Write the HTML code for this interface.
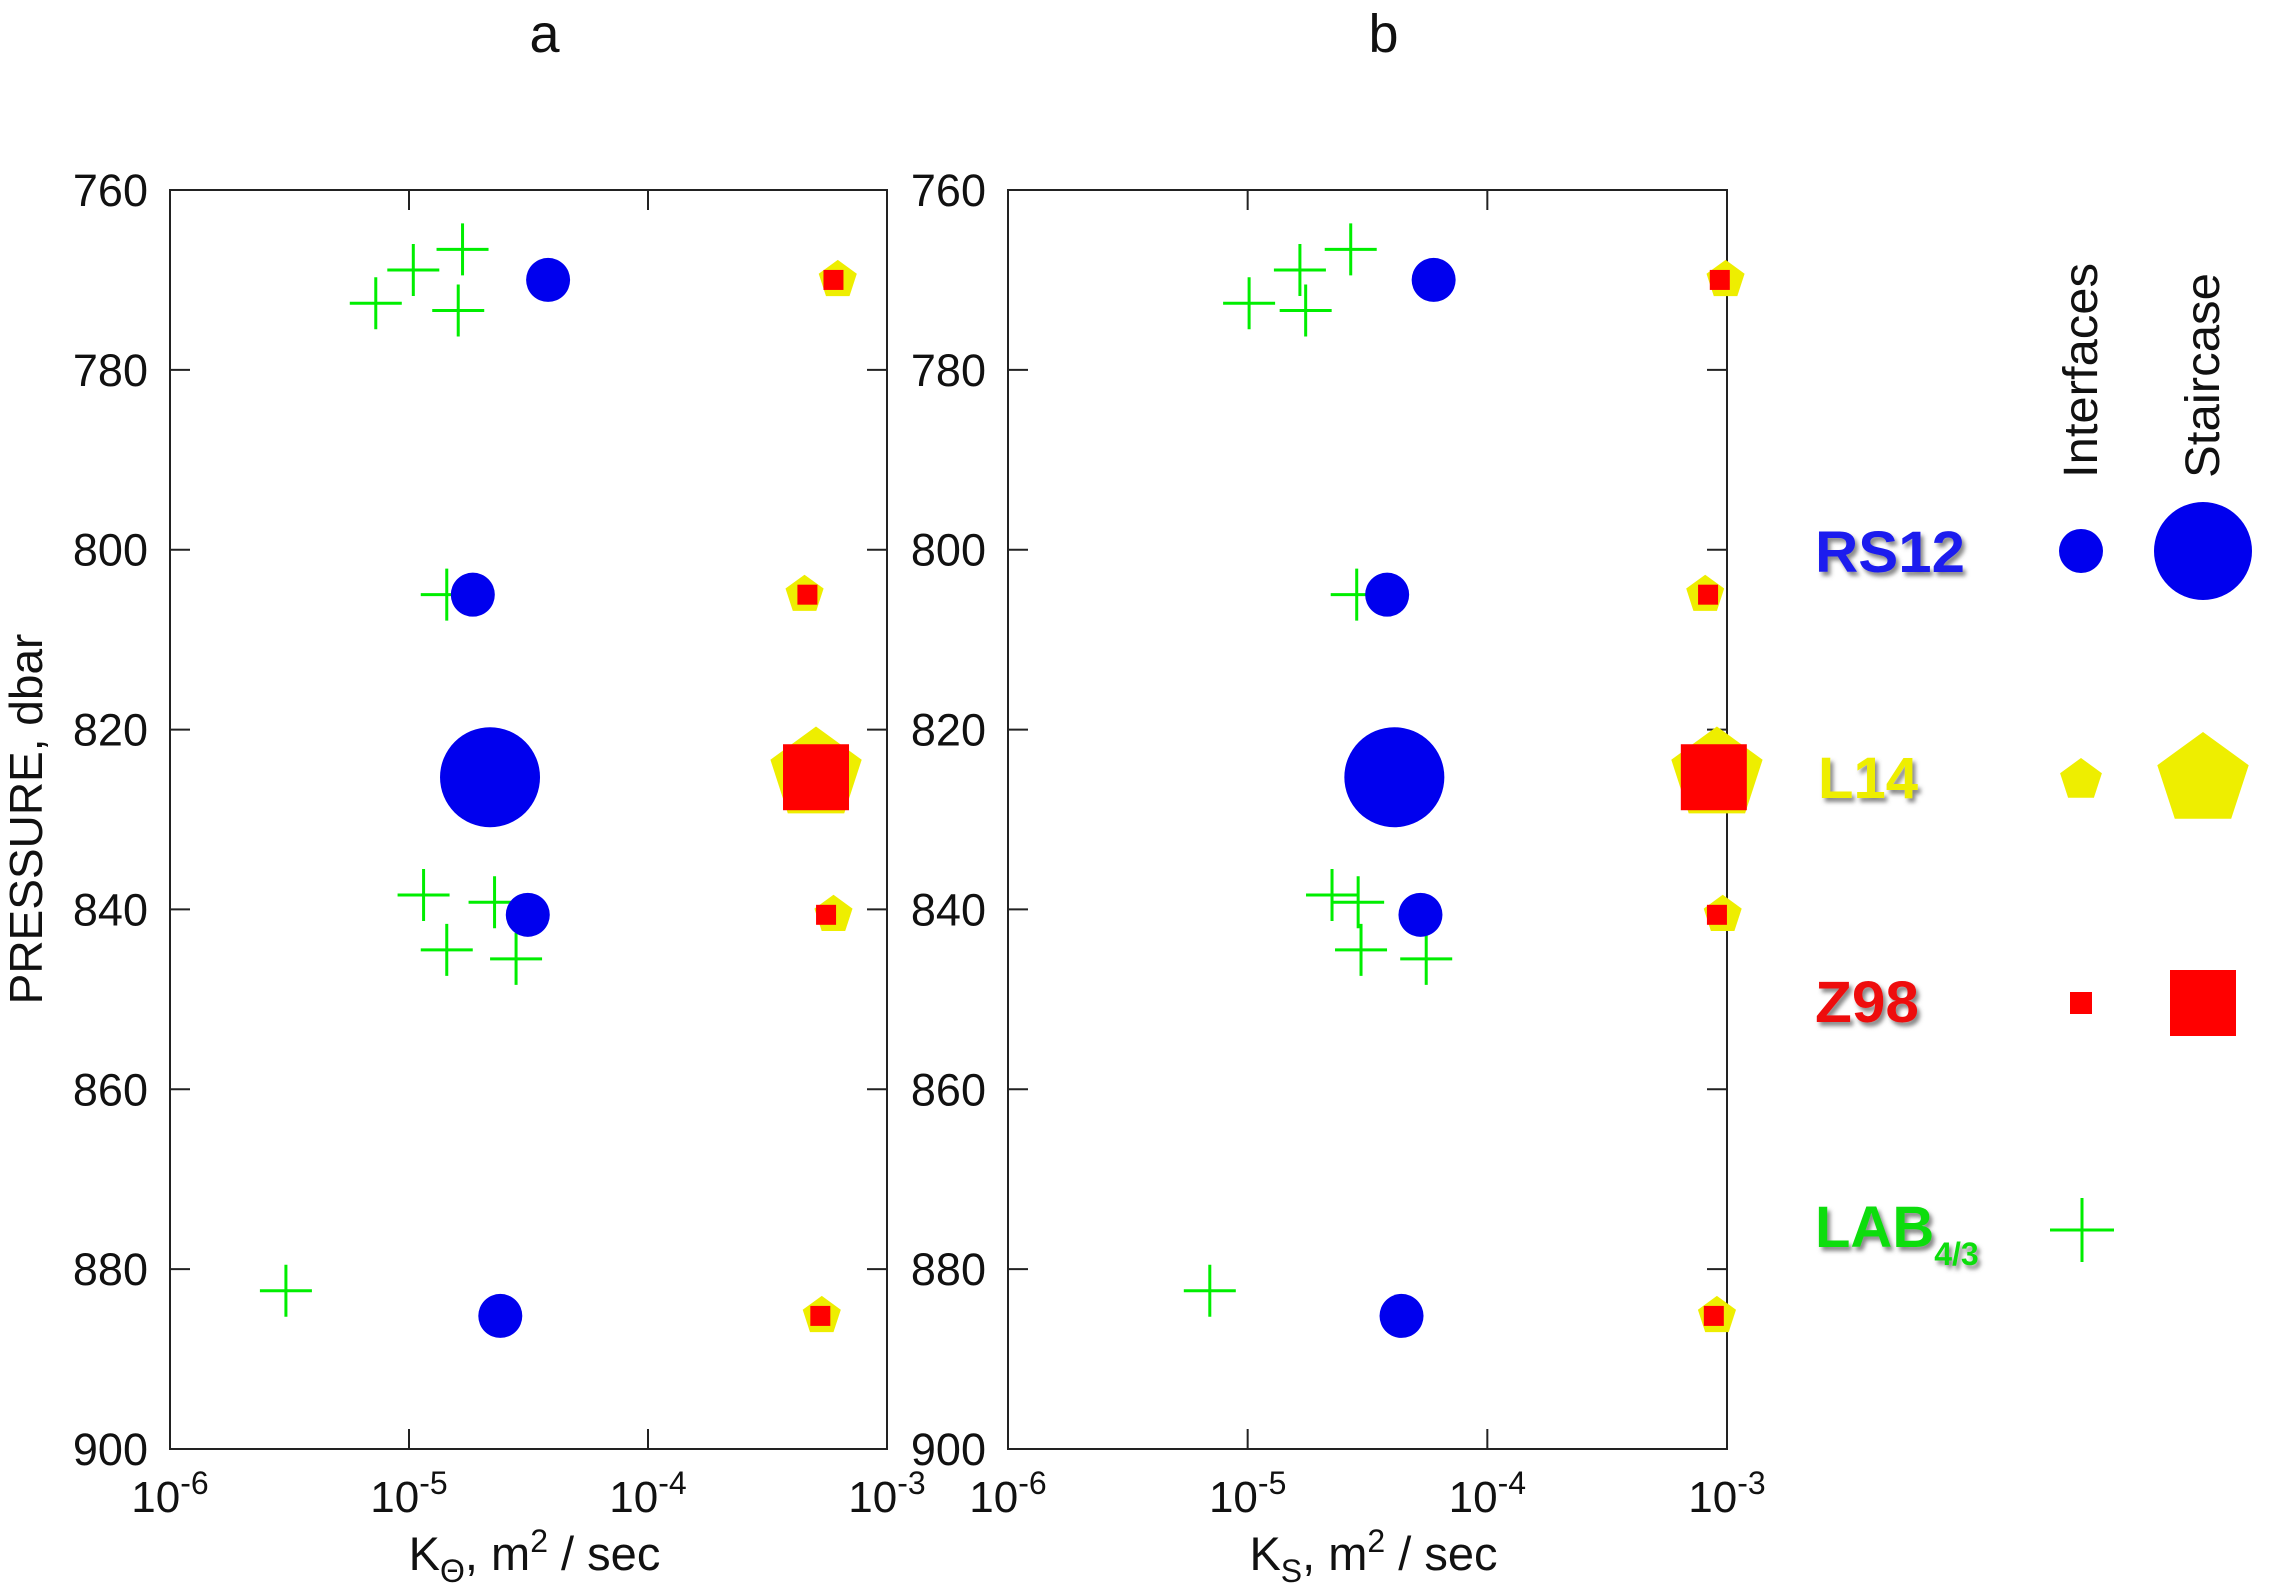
<!DOCTYPE html>
<html><head><meta charset="utf-8"><style>
html,body{margin:0;padding:0;background:#fff}
svg{display:block}
text{font-family:"Liberation Sans",sans-serif;fill:#111}
.lg{font-weight:bold;font-size:58px}
</style></head><body>
<svg id="chart" width="2274" height="1594" viewBox="0 0 2274 1594" xmlns="http://www.w3.org/2000/svg">
<defs>
<filter id="sh" x="-10%" y="-10%" width="130%" height="140%"><feDropShadow dx="3" dy="4" stdDeviation="2" flood-color="#555" flood-opacity="0.7"/></filter>
</defs>
<g id="panels"></g>
<g id="legend">
<text x="2097" y="478" font-size="48" transform="rotate(-90 2097 478)" textLength="215" lengthAdjust="spacingAndGlyphs">Interfaces</text>
<text x="2219" y="478" font-size="48" transform="rotate(-90 2219 478)" textLength="205" lengthAdjust="spacingAndGlyphs">Staircase</text>
<text class="lg" x="1815" y="572" style="fill:#1a1aee" filter="url(#sh)" textLength="150" lengthAdjust="spacingAndGlyphs">RS12</text>
<text class="lg" x="1818" y="798" style="fill:#eeee00" filter="url(#sh)" textLength="100" lengthAdjust="spacingAndGlyphs">L14</text>
<text class="lg" x="1815" y="1022" style="fill:#ee1111" filter="url(#sh)" textLength="104" lengthAdjust="spacingAndGlyphs">Z98</text>
<text class="lg" x="1815" y="1247" style="fill:#11dd11" filter="url(#sh)">LAB<tspan font-size="32" dy="18">4/3</tspan></text>
</g>
</svg>
<script>
// Panel a data (log10 K, pressure dbar)
const rsA_x=[-4.418,-4.733,-4.503,-4.618]; const rsA_p=[770,805,840.6,885.2];
const rsA_big_x=[-4.661]; const rsA_big_p=[825.3];
const l14A_x=[-3.206,-3.345,-3.224,-3.273]; const l14A_p=[770,805,840.6,885.2];
const l14A_big_x=[-3.297]; const l14A_big_p=[825];
const z98A_x=[-3.224,-3.333,-3.255,-3.279]; const z98A_p=[770,805,840.6,885.2];
const z98A_big_x=[-3.297]; const z98A_big_p=[825.3];
const labA_x=[-5.139,-4.982,-4.776,-4.794,-4.842,-4.939,-4.642,-4.842,-4.552,-5.515];
const labA_p=[772.6,768.9,766.6,773.4,805,838.4,839.2,844.5,845.5,882.4];
// Panel b data
const rsB_x=[-4.224,-4.418,-4.279,-4.358]; const rsB_p=[770,805,840.6,885.2];
const rsB_big_x=[-4.388]; const rsB_big_p=[825.3];
const l14B_x=[-3.006,-3.091,-3.018,-3.042]; const l14B_p=[770,805,840.6,885.2];
const l14B_big_x=[-3.042]; const l14B_big_p=[825];
const z98B_x=[-3.03,-3.079,-3.042,-3.055]; const z98B_p=[770,805,840.6,885.2];
const z98B_big_x=[-3.055]; const z98B_big_p=[825.3];
const labB_x=[-4.994,-4.782,-4.570,-4.758,-4.545,-4.648,-4.539,-4.527,-4.255,-5.158];
const labB_p=[772.6,768.9,766.6,773.4,805,838.4,839.2,844.5,845.5,882.4];
const yTicks=[760,780,800,820,840,860,880,900];
const xTicks=[-6,-5,-4,-3];
const panelTitles=["a","b"];

const NS="http://www.w3.org/2000/svg";
const root=document.getElementById('panels');
function mk(tag,attrs,parent){const e=document.createElementNS(NS,tag);for(const k in attrs)e.setAttribute(k,attrs[k]);(parent||root).appendChild(e);return e;}
const plotTop=190,plotBot=1449;
function yS(p){return plotTop+(p-760)/(900-760)*(plotBot-plotTop);}
function pent(cx,cy,r){let pts=[];for(let i=0;i<5;i++){const a=-Math.PI/2+i*2*Math.PI/5;pts.push((cx+r*Math.cos(a)).toFixed(1)+','+(cy+r*Math.sin(a)).toFixed(1));}return pts.join(' ');}
function circle(g,cx,cy,r,name){const e=mk('circle',{cx:cx,cy:cy,r:r,fill:'#0000ee'},g);

}
function pentagon(g,cx,cy,r,name){const e=mk('polygon',{points:pent(cx,cy,r),fill:'#eeee00'},g);

}
function square(g,cx,cy,s,name){const e=mk('rect',{x:cx-s/2,y:cy-s/2,width:s,height:s,fill:'#ff0000'},g);

}
function cross(g,cx,cy,s,name){const e=mk('path',{d:`M${cx-s/2},${cy}H${cx+s/2}M${cx},${cy-s/2}V${cy+s/2}`,stroke:'#00ee00','stroke-width':3,fill:'none'},g);

}

function panel(L,R,title,d,sub){
  const xS=v=>L+(v+6)/3*(R-L);
  const g=mk('g',{});
  
  
  const t=mk('text',{x:(L+R)/2+16,y:52,'text-anchor':'middle','font-size':54},g);t.textContent=title;
  
  
  const fr=mk('rect',{x:L,y:plotTop,width:R-L,height:plotBot-plotTop,fill:'none',stroke:'#222','stroke-width':2},g);
  
  
  yTicks.forEach(p=>{const y=yS(p);mk('path',{d:`M${L},${y}h20M${R},${y}h-20`,stroke:'#222','stroke-width':2},g);
    const tl=mk('text',{x:L-22,y:y+16,'text-anchor':'end','font-size':45},g);tl.textContent=p;
    
    });
  xTicks.forEach(v=>{const x=xS(v);mk('path',{d:`M${x},${plotBot}v-20M${x},${plotTop}v20`,stroke:'#222','stroke-width':2},g);
    const tl=mk('text',{x:x,y:1512,'text-anchor':'middle','font-size':44},g);
    tl.innerHTML='10<tspan dy="-18" font-size="32">'+v+'</tspan>';
    
    });
  const xt=mk('text',{x:(L+R)/2+6,y:1570,'text-anchor':'middle','font-size':47},g);
  xt.innerHTML='K<tspan font-size="32" dy="12">'+sub+'</tspan><tspan dy="-12">, m</tspan><tspan font-size="32" dy="-18">2</tspan><tspan dy="18"> / sec</tspan>';
  
  
  d.lab_x.forEach((v,i)=>cross(g,xS(v),yS(d.lab_p[i]),52,'lab-cross'));
  d.rs_x.forEach((v,i)=>circle(g,xS(v),yS(d.rs_p[i]),22,'rs12-interface'));
  d.rsb_x.forEach((v,i)=>circle(g,xS(v),yS(d.rsb_p[i]),50,'rs12-staircase'));
  d.l_x.forEach((v,i)=>pentagon(g,xS(v),yS(d.l_p[i]),20,'l14-interface'));
  d.lb_x.forEach((v,i)=>pentagon(g,xS(v),yS(d.lb_p[i]),48,'l14-staircase'));
  d.z_x.forEach((v,i)=>square(g,xS(v),yS(d.z_p[i]),20,'z98-interface'));
  d.zb_x.forEach((v,i)=>square(g,xS(v),yS(d.zb_p[i]),66,'z98-staircase'));
}
panel(170,887,panelTitles[0],{rs_x:rsA_x,rs_p:rsA_p,rsb_x:rsA_big_x,rsb_p:rsA_big_p,l_x:l14A_x,l_p:l14A_p,lb_x:l14A_big_x,lb_p:l14A_big_p,z_x:z98A_x,z_p:z98A_p,zb_x:z98A_big_x,zb_p:z98A_big_p,lab_x:labA_x,lab_p:labA_p},'Θ');
panel(1008,1727,panelTitles[1],{rs_x:rsB_x,rs_p:rsB_p,rsb_x:rsB_big_x,rsb_p:rsB_big_p,l_x:l14B_x,l_p:l14B_p,lb_x:l14B_big_x,lb_p:l14B_big_p,z_x:z98B_x,z_p:z98B_p,zb_x:z98B_big_x,zb_p:z98B_big_p,lab_x:labB_x,lab_p:labB_p},'S');
const yt=mk('text',{x:42,y:819,'text-anchor':'middle','font-size':46,transform:'rotate(-90 42 819)'});
yt.textContent='PRESSURE, dbar';


// legend symbols
const lg=document.getElementById('legend');
circle(lg,2081,551,22,'legend-rs12-interface');
circle(lg,2203,551,49,'legend-rs12-staircase');
pentagon(lg,2081,780,22,'legend-l14-interface');
pentagon(lg,2203,780,48,'legend-l14-staircase');
square(lg,2081,1003,22,'legend-z98-interface');
square(lg,2203,1003,66,'legend-z98-staircase');
cross(lg,2082,1230,64,'legend-lab-cross');
</script>
</body></html>
